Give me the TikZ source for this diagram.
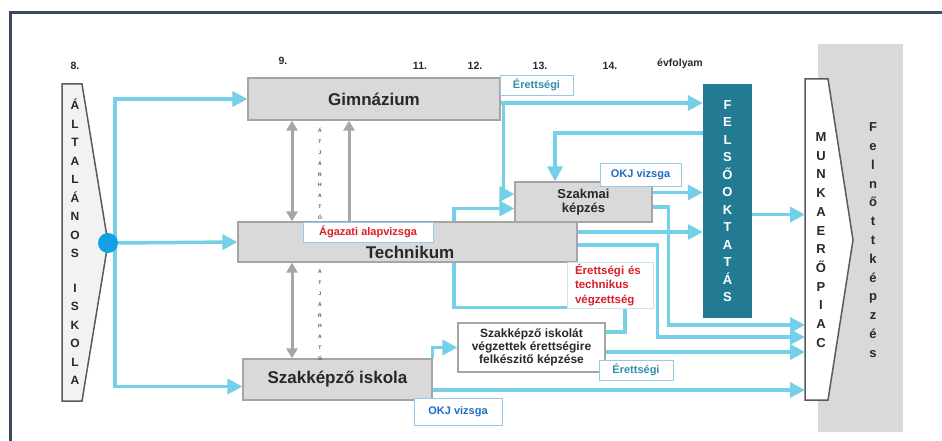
\documentclass[tikz,border=0pt]{standalone}
\usepackage{fontspec}
\setmainfont{Liberation Sans}
\usetikzlibrary{arrows.meta}
\definecolor{flowblue}{RGB}{116,207,232}
\definecolor{dotblue}{RGB}{20,160,230}
\definecolor{felsoteal}{RGB}{35,122,147}
\definecolor{boxgray}{RGB}{217,217,217}
\definecolor{boxline}{RGB}{165,165,165}
\definecolor{arrgray}{RGB}{166,166,166}
\definecolor{tagline}{RGB}{150,200,225}
\definecolor{erettteal}{RGB}{52,140,175}
\definecolor{okjblue}{RGB}{30,110,200}
\definecolor{redtext}{RGB}{220,30,40}
\definecolor{framecol}{RGB}{60,75,95}
\definecolor{darktext}{RGB}{40,40,40}

\begin{document}
\begin{tikzpicture}[x=1pt,y=-1pt,
    box/.style={draw=boxline,fill=boxgray,line width=1.2pt,inner sep=0pt,text=darktext},
    mainlbl/.style={font=\bfseries\fontsize{17}{20}\selectfont,text=darktext},
    tag/.style={draw=tagline,fill=white,line width=.8pt,inner sep=0pt,font=\bfseries\fontsize{11}{13}\selectfont},
    letters/.style={align=center,inner sep=0pt,font=\bfseries\fontsize{13}{18.7}\selectfont,text=darktext},
    outline/.style={draw={rgb,255:red,90;green,90;blue,90},line width=1.5pt},
    flow/.style={draw=flowblue,line width=3.5pt},
    flowarr/.style={flow,-{Triangle[length=15pt,width=15pt]}},
    grayarr/.style={draw=arrgray,line width=3pt,{Triangle[length=10pt,width=11pt]}-{Triangle[length=10pt,width=11pt]}},
    grayup/.style={draw=arrgray,line width=3pt,-{Triangle[length=10pt,width=11pt]}}]
\useasboundingbox (0,0) rectangle (942,441);
\draw[framecol,line width=3pt] (10,441) -- (10,13) -- (942,13);

\path[font=\bfseries\fontsize{10.5}{12}\selectfont,text=darktext]
      ( 75,66) node (g8)   {8.}
      (283,61) node (g9)   {9.}
      (420,66) node (g11)  {11.}
      (475,66) node (g12)  {12.}
      (540,66) node (g13)  {13.}
      (610,66) node (g14)  {14.}
      (680,64) node (evf)  {évfolyam};

\node[fill=boxgray,minimum width=85,minimum height=388,inner sep=0pt] (felnott) at (860.5,238) {};
\node[letters,font=\bfseries\fontsize{13}{18.8}\selectfont] (felnotttext) at (873,240)
    {F\\e\\l\\n\\ő\\t\\t\\k\\é\\p\\z\\é\\s};

\draw[outline,fill={rgb,255:red,242;green,242;blue,242}]
    (62,84) -- (82,84) -- (108,243) -- (82,401) -- (62,401) -- cycle;
\node[letters,font=\bfseries\fontsize{12}{18.5}\selectfont] (alttext) at (75,242)
    {Á\\L\\T\\A\\L\\Á\\N\\O\\S\\[16pt]I\\S\\K\\O\\L\\A};

\draw[outline,fill=white]
    (805,79) -- (828,79) -- (853,240) -- (828,400) -- (805,400) -- cycle;
\node[letters] (munka) at (821,240) {M\\U\\N\\K\\A\\E\\R\\Ő\\P\\I\\A\\C};
\coordinate (mpw) at (805,240);

\node[box,mainlbl,minimum width=252,minimum height=42] (gimn) at (374,99) {Gimnázium};
\node[box,minimum width=339,minimum height=40] (tech) at (407.5,242) {};
\node[mainlbl,inner sep=0pt] (techlbl) at (410,252) {Technikum};
\node[box,mainlbl,minimum width=189,minimum height=41] (szakisk) at (337.5,379.5) {Szakképző iskola};
\node[box,align=center,minimum width=137,minimum height=40,font=\bfseries\fontsize{13}{14}\selectfont] (szakmai) at (583.5,202) {Szakmai\\képzés};
\node[draw=boxline,fill=white,line width=1.2pt,inner sep=0pt,text=darktext,align=center,
      minimum width=147,minimum height=49,font=\bfseries\fontsize{12}{13}\selectfont] (szakveg) at (531.5,347.5)
    {Szakképző iskolát\\végzettek érettségire\\felkészitő képzése};
\node[fill=felsoteal,minimum width=49,minimum height=234,inner sep=0pt,text=white,align=center,
      font=\bfseries\fontsize{13}{17.5}\selectfont] (felso) at (727.5,201)
    {F\\E\\L\\S\\Ő\\O\\K\\T\\A\\T\\Á\\S};

\coordinate (split) at (115,243);
\draw[flowarr] (split) -- (tech.west);
\draw[flowarr] (split) |- (gimn.west);
\draw[flowarr] (split) |- ([yshift=-7]szakisk.west);
\draw[flowarr] ([yshift=-4]gimn.east) -- ([yshift=-4]gimn.east -| felso.west);
\draw[flowarr] ([xshift=3,yshift=-4]gimn.east) |- ([yshift=8]szakmai.west);
\draw[flowarr] ([yshift=68]felso.west) -| ([xshift=-28.5]szakmai.north);
\draw[flowarr] ([xshift=46.5]tech.north) |- ([yshift=-6.5]szakmai.west);
\draw[flowarr] ([yshift=9.5]szakmai.east) -- ([yshift=9.5]szakmai.east -| felso.west);
\draw[flowarr] ([yshift=-5]szakmai.east) -| ++(16,118) -- (mpw |- 0,325);
\draw[flowarr] ([yshift=10]tech.east) -- ([yshift=10]tech.east -| felso.west);
\draw[flowarr] ([yshift=-3]tech.east) -| ++(80,92) -- (mpw |- 0,337);
\draw[flow] ([xshift=46.5]tech.south) |- ++(171,45) |- ([yshift=15.5]szakveg.east);
\draw[flowarr] (szakisk.north east) |- (szakveg.west);
\draw[flowarr] ([yshift=-4.5]szakveg.east) -- ([yshift=-4.5]szakveg.east -| mpw);
\draw[flowarr] ([yshift=-10.5]szakisk.east) -- ([yshift=-10.5]szakisk.east -| mpw);
\draw[flowarr] ([yshift=-13.5]felso.east) -- ([yshift=-13.5]felso.east -| mpw);

\node[circle,fill=dotblue,minimum size=20,inner sep=0pt] (dot) at (108,243) {};

\draw[grayarr] ([xshift=-82]gimn.south) -- ([xshift=-82]gimn.south |- tech.north);
\draw[grayup] ([xshift=-58.5]tech.north) -- ([xshift=-58.5]tech.north |- gimn.south);
\draw[grayarr] ([xshift=-115.5]tech.south) -- ([xshift=-115.5]tech.south |- szakisk.north);
\path[align=center,inner sep=0pt,text={rgb,255:red,80;green,80;blue,80},font=\bfseries\fontsize{5}{10.8}\selectfont]
      (320,174) node (atj1) {Á\\T\\J\\Á\\R\\H\\A\\T\\Ó}
      (320,315) node (atj2) {Á\\T\\J\\Á\\R\\H\\A\\T\\Ó};

\node[tag,text=erettteal,minimum width=73,minimum height=20] (eretts1) at (536.5,85) {Érettségi};
\node[tag,text=okjblue,minimum width=81,minimum height=23] (okj1) at (640.5,174.5) {OKJ vizsga};
\node[tag,text=redtext,minimum width=130,minimum height=20] (agazati) at (368,232) {Ágazati alapvizsga};
\node[tag,draw=tagline!50,text=redtext,minimum width=86,minimum height=46,align=left,text width=70,
      font=\bfseries\fontsize{11.5}{14.5}\selectfont] (erettech) at (610,285) {Érettségi és\\technikus\\végzettség};
\node[tag,text=erettteal,minimum width=74,minimum height=20] (eretts2) at (636,370) {Érettségi};
\node[tag,text=okjblue,minimum width=88,minimum height=27] (okj2) at (458,411.5) {OKJ vizsga};
\end{tikzpicture}
\end{document}
